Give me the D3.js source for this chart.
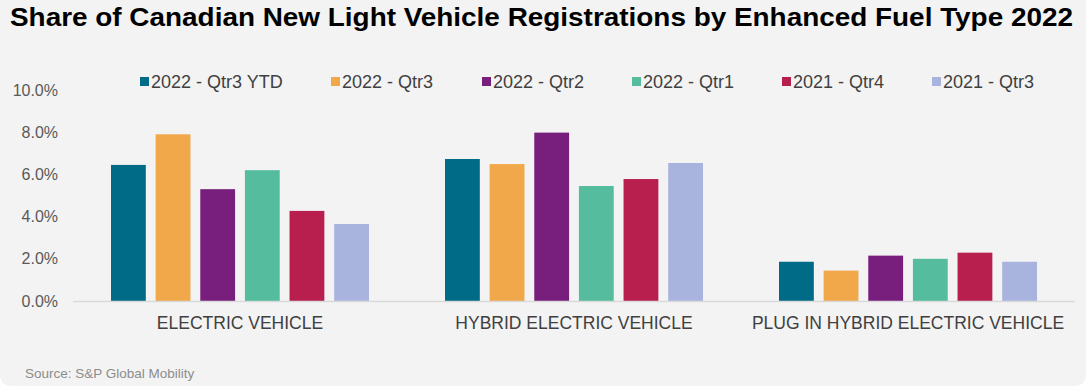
<!DOCTYPE html>
<html>
<head>
<meta charset="utf-8">
<script src="https://cdnjs.cloudflare.com/ajax/libs/d3/7.8.5/d3.min.js"></script>
<style>
  body { margin: 0; background: #fff; }
  svg { display: block; font-family: "Liberation Sans", Arial, sans-serif; }
</style>
</head>
<body>
<div class="container"></div>
<script>
// data
var categories = ["ELECTRIC VEHICLE", "HYBRID ELECTRIC VEHICLE", "PLUG IN HYBRID ELECTRIC VEHICLE"];
var seriesNames = ["2022 - Qtr3 YTD", "2022 - Qtr3", "2022 - Qtr2", "2022 - Qtr1", "2021 - Qtr4", "2021 - Qtr3"];
var seriesColors = ["#006b87", "#f0a84a", "#781e7c", "#55bc9e", "#b81f4e", "#a9b4de"];
var qtr3ytd = [6.45, 6.73, 1.86];
var qtr3 = [7.9, 6.49, 1.44];
var qtr2 = [5.3, 7.98, 2.15];
var qtr1 = [6.2, 5.45, 2.0];
var q4_2021 = [4.27, 5.78, 2.29];
var q3_2021 = [3.65, 6.54, 1.86];
var yTicks = [0, 2, 4, 6, 8, 10];

var values = [qtr3ytd, qtr3, qtr2, qtr1, q4_2021, q3_2021];

var W = 1086, H = 386;
var svg = d3.select('.container').append('svg')
  .attr('width', W).attr('height', H);

// background panel, rounded at the bottom
svg.append('path')
  .attr('d', 'M0,0 H' + W + ' V' + (H - 12) + ' Q' + W + ',' + H + ' ' + (W - 12) + ',' + H +
    ' H12 Q0,' + H + ' 0,' + (H - 12) + ' Z')
  .attr('fill', '#f3f3f3');

svg.append('text')
  .attr('x', 10).attr('y', 26)
  .attr('textLength', 1063).attr('lengthAdjust', 'spacingAndGlyphs')
  .style('font-size', '25px').style('font-weight', 'bold').style('fill', '#000')
  .text('Share of Canadian New Light Vehicle Registrations by Enhanced Fuel Type 2022');

var x0 = d3.scaleBand().domain(categories).range([73, 1075]);
var x1 = d3.scaleBand().domain(seriesNames).range([38, x0.bandwidth() - 38]).paddingInner(0.22);
var y = d3.scaleLinear().domain([0, 10]).range([301, 90]);

// y axis labels
var yAxis = svg.append('g').attr('transform', 'translate(58,0)')
  .call(d3.axisLeft(y).tickValues(yTicks).tickSize(0).tickPadding(0)
    .tickFormat(function(d){ return d.toFixed(1) + '%'; }));
yAxis.select('.domain').remove();
yAxis.selectAll('text').style('font-size', '16px').style('fill', '#595959')
  .style('font-family', '"Liberation Sans", Arial, sans-serif');

// bars
var groups = svg.selectAll('g.cat').data(categories).enter().append('g')
  .attr('class', 'cat')
  .attr('transform', function(d){ return 'translate(' + x0(d) + ',0)'; });

groups.selectAll('rect').data(function(c, ci){
    return seriesNames.map(function(s, si){ return {s: s, v: values[si][ci], c: seriesColors[si]}; });
  }).enter().append('rect')
  .attr('x', function(d){ return x1(d.s); })
  .attr('width', x1.bandwidth())
  .attr('y', function(d){ return y(d.v); })
  .attr('height', function(d){ return y(0) - y(d.v); })
  .attr('fill', function(d){ return d.c; });

// baseline
svg.append('line')
  .attr('x1', 73).attr('x2', 1075).attr('y1', y(0) + 0.5).attr('y2', y(0) + 0.5)
  .attr('stroke', '#d9d9d9').attr('stroke-width', 1.5);

// category labels
var xAxis = svg.append('g').attr('transform', 'translate(0,' + y(0) + ')')
  .call(d3.axisBottom(x0).tickSize(0).tickPadding(16));
xAxis.select('.domain').remove();
xAxis.selectAll('text').style('font-size', '17.5px').style('fill', '#404040')
  .style('font-family', '"Liberation Sans", Arial, sans-serif');

// legend
var legendX = [140, 331, 482, 632, 782, 932];
var legend = svg.selectAll('g.leg').data(seriesNames).enter().append('g')
  .attr('class', 'leg')
  .attr('transform', function(d, i){ return 'translate(' + legendX[i] + ',82)'; });
legend.append('rect').attr('x', 0).attr('y', -5).attr('width', 9).attr('height', 9)
  .attr('fill', function(d, i){ return seriesColors[i]; });
legend.append('text').attr('x', 11).attr('y', 6)
  .style('font-size', '18px').style('fill', '#404040')
  .text(function(d){ return d; });

svg.append('text')
  .attr('x', 25).attr('y', 378)
  .style('font-size', '13.5px').style('fill', '#8c8c8c')
  .text('Source: S&P Global Mobility');
</script>
</body>
</html>
